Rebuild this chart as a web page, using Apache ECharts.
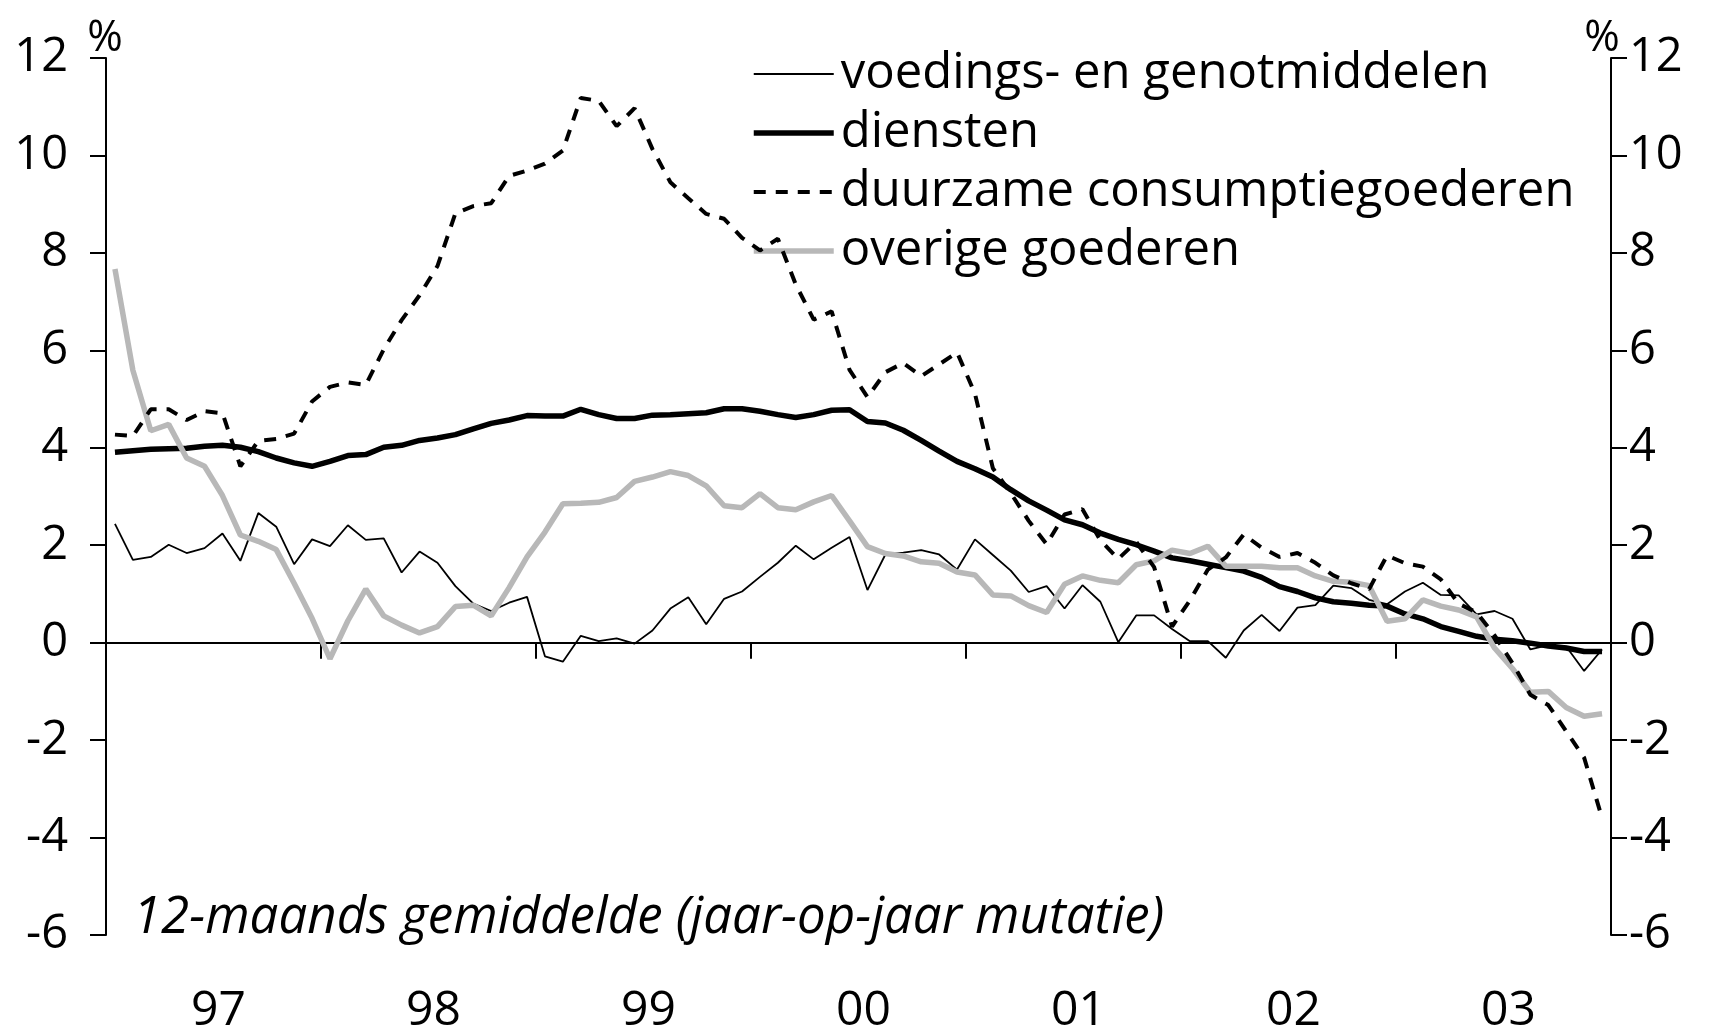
<!DOCTYPE html>
<html>
<head>
<meta charset="utf-8">
<script src="https://cdn.jsdelivr.net/npm/echarts@6/dist/echarts.min.js"></script>
<style>
html,body{margin:0;padding:0;background:#fff;}
#chart{width:1709px;height:1035px;}
</style>
</head>
<body>
<div id="chart"></div>
<script>
// Tick labels / categories
const years = ['97','98','99','00','01','02','03'];
const yTicks = [-6,-4,-2,0,2,4,6,8,10,12];
const unitLabel = '%';

// Series names
const seriesNames = ['voedings- en genotmiddelen','diensten','duurzame consumptiegoederen','overige goederen'];

// Monthly values, Jan 1997 - Dec 2003 (12-month average, y-o-y %)
const voedings = [
 2.44,1.70,1.76,2.01,1.84,1.94,2.24,1.68,2.66,2.38,1.61,2.12,
 1.98,2.41,2.11,2.14,1.44,1.87,1.64,1.16,0.80,0.65,0.82,0.94,
 -0.28,-0.39,0.14,0.03,0.09,-0.02,0.25,0.70,0.93,0.38,0.90,1.05,
 1.35,1.64,1.99,1.71,1.95,2.17,1.08,1.81,1.85,1.90,1.81,1.50,
 2.12,1.80,1.48,1.04,1.16,0.70,1.18,0.84,0.01,0.56,0.56,0.28,
 0.03,0.03,-0.31,0.25,0.57,0.24,0.72,0.77,1.17,1.12,0.88,0.79,
 1.05,1.23,0.98,0.97,0.58,0.65,0.49,-0.14,-0.05,-0.08,-0.58,-0.14
];
const diensten = [
 3.91,3.94,3.97,3.98,3.99,4.03,4.05,4.01,3.92,3.79,3.69,3.62,
 3.72,3.84,3.86,4.01,4.05,4.15,4.20,4.27,4.39,4.50,4.57,4.66,
 4.65,4.65,4.79,4.68,4.60,4.60,4.67,4.68,4.70,4.72,4.80,4.80,
 4.75,4.68,4.62,4.68,4.77,4.78,4.54,4.51,4.36,4.15,3.93,3.72,
 3.57,3.40,3.14,2.91,2.72,2.52,2.42,2.25,2.12,2.01,1.88,1.74,
 1.68,1.61,1.54,1.47,1.34,1.15,1.05,0.92,0.84,0.81,0.77,0.75,
 0.59,0.49,0.33,0.23,0.13,0.07,0.04,-0.01,-0.07,-0.11,-0.18,-0.18
];
const duurzame = [
 4.27,4.24,4.79,4.79,4.57,4.75,4.71,3.62,4.14,4.18,4.29,4.95,
 5.25,5.34,5.29,6.02,6.62,7.13,7.73,8.81,8.96,9.02,9.58,9.69,
 9.83,10.10,11.18,11.12,10.60,10.97,10.13,9.45,9.12,8.80,8.70,8.31,
 8.05,8.29,7.35,6.63,6.80,5.60,5.04,5.55,5.74,5.47,5.71,5.96,
 5.11,3.58,3.07,2.50,2.02,2.63,2.74,2.10,1.72,2.07,1.55,0.33,
 0.87,1.50,1.75,2.22,1.95,1.76,1.84,1.64,1.38,1.22,1.10,1.79,
 1.63,1.56,1.30,0.80,0.62,0.15,-0.42,-1.07,-1.28,-1.82,-2.36,-3.60
];
const overige = [
 7.67,5.59,4.35,4.48,3.79,3.62,3.02,2.21,2.08,1.91,1.22,0.50,
 -0.33,0.45,1.10,0.55,0.36,0.20,0.33,0.74,0.77,0.55,1.13,1.76,
 2.27,2.85,2.86,2.88,2.98,3.31,3.40,3.51,3.43,3.22,2.81,2.77,
 3.06,2.77,2.73,2.89,3.02,2.50,1.97,1.83,1.78,1.66,1.63,1.45,
 1.39,0.98,0.96,0.76,0.62,1.20,1.37,1.28,1.23,1.60,1.68,1.90,
 1.83,1.98,1.57,1.57,1.57,1.54,1.54,1.37,1.26,1.24,1.17,0.44,
 0.49,0.88,0.75,0.67,0.53,-0.11,-0.53,-1.02,-1.00,-1.33,-1.51,-1.46
];
const noteText = '12-maands gemiddelde (jaar-op-jaar mutatie)';

const months = [];
years.forEach(y => { for (let m = 1; m <= 12; m++) months.push(y + '-' + (m < 10 ? '0' + m : m)); });

const FONT = '"Open Sans", "DejaVu Sans", sans-serif';
const chart = echarts.init(document.getElementById('chart'), null, {renderer: 'canvas'});

const yAxisCommon = {
  type: 'value', min: yTicks[0], max: yTicks[yTicks.length - 1], interval: 2,
  splitLine: {show: false},
  axisLine: {show: true, lineStyle: {color: '#000', width: 2}},
  axisTick: {show: true, inside: false, length: 16, lineStyle: {color: '#000', width: 2}},
  axisLabel: {fontFamily: FONT, fontSize: 47, color: '#000'}
};

const option = {
  backgroundColor: '#fff',
  animation: false,
  grid: {left: 106, right: 98, top: 58, bottom: 85, containLabel: false},
  legend: {
    orient: 'vertical', left: 746, top: 40,
    itemWidth: 80, itemHeight: 14, itemGap: 1,
    itemStyle: {opacity: 0},
    lineStyle: {width: 'inherit'},
    textStyle: {fontFamily: FONT, fontSize: 49, color: '#000', lineHeight: 58, padding: [0, 0, 0, 2]},
    data: seriesNames
  },
  xAxis: [
    {
      type: 'category', data: months, boundaryGap: true, position: 'bottom',
      axisLine: {show: true, onZero: true, lineStyle: {color: '#000', width: 2}},
      axisTick: {show: true, interval: 11, length: 16, inside: false, lineStyle: {color: '#000', width: 2}},
      axisLabel: {show: false},
      splitLine: {show: false}
    },
    {
      type: 'category', data: months, boundaryGap: true, position: 'bottom',
      axisLine: {show: false, onZero: false},
      axisTick: {show: false},
      axisLabel: {
        show: true, margin: 52, fontFamily: FONT, fontSize: 48, color: '#000',
        padding: [0, 8, 0, 0],
        interval: function (idx) { return idx % 12 === 6; },
        formatter: function (v) { return v.slice(0, 2); }
      },
      splitLine: {show: false}
    }
  ],
  yAxis: [
    Object.assign({}, yAxisCommon, {position: 'left', axisLabel: Object.assign({}, yAxisCommon.axisLabel, {margin: 38})}),
    Object.assign({}, yAxisCommon, {position: 'right', axisLabel: Object.assign({}, yAxisCommon.axisLabel, {margin: 18})})
  ],
  graphic: [
    {type: 'text', left: 133, top: 893,
     style: {text: noteText, font: 'italic 51px ' + FONT, fill: '#000'}},
    {type: 'text', x: 105, y: 60,
     style: {text: unitLabel, font: '43px ' + FONT, fill: '#000', align: 'center', verticalAlign: 'bottom'}},
    {type: 'text', x: 1602, y: 60,
     style: {text: unitLabel, font: '43px ' + FONT, fill: '#000', align: 'center', verticalAlign: 'bottom'}}
  ],
  series: [
    {name: seriesNames[0], type: 'line', data: voedings, symbol: 'none', z: 2,
     lineStyle: {color: '#000', width: 1.8}, itemStyle: {color: '#000'}},
    {name: seriesNames[1], type: 'line', data: diensten, symbol: 'none', z: 3,
     lineStyle: {color: '#000', width: 5.5}, itemStyle: {color: '#000'}},
    {name: seriesNames[3], type: 'line', data: overige, symbol: 'none', z: 4,
     lineStyle: {color: '#b8b8b8', width: 5.5}, itemStyle: {color: '#b8b8b8'}},
    {name: seriesNames[2], type: 'line', data: duurzame, symbol: 'none', z: 5,
     lineStyle: {color: '#000', width: 4, type: [12, 10]}, itemStyle: {color: '#000'}}
  ]
};
chart.setOption(option);
</script>
</body>
</html>
